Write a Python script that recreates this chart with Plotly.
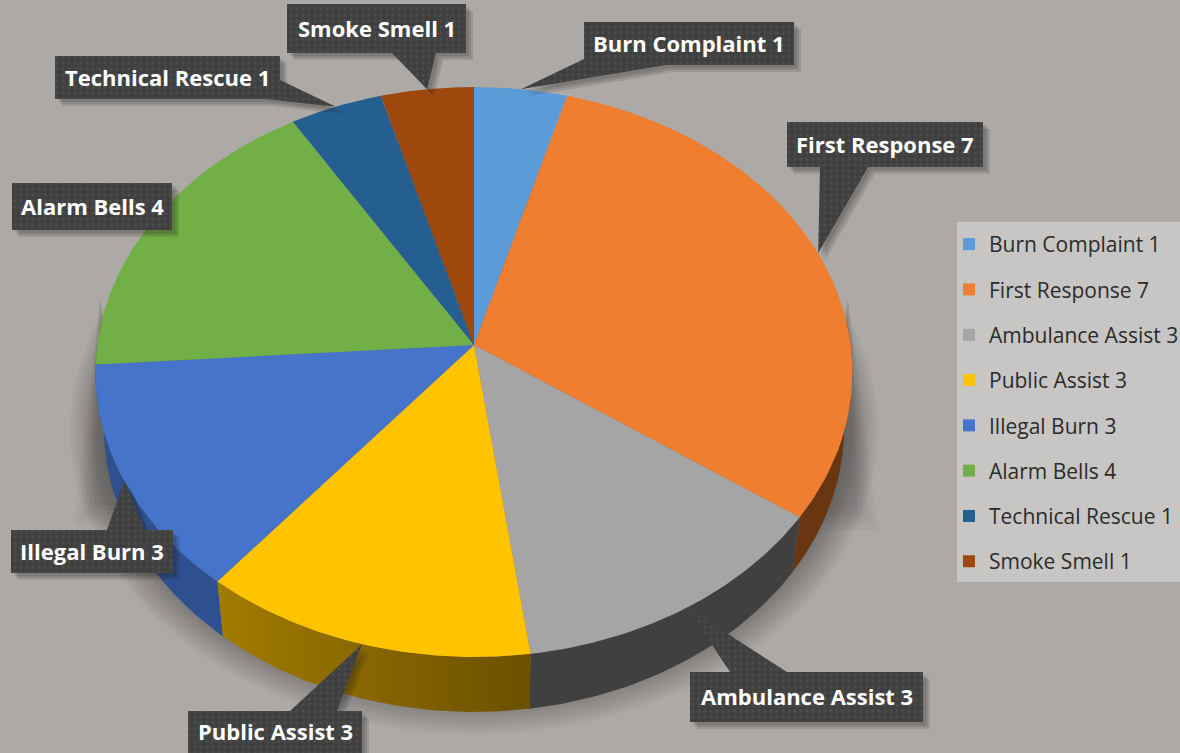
import numpy as np
import plotly.graph_objects as go

categories = ["Burn Complaint", "First Response", "Ambulance Assist", "Public Assist",
              "Illegal Burn", "Alarm Bells", "Technical Rescue", "Smoke Smell"]
values = [1, 7, 3, 3, 3, 4, 1, 1]
top_colors = ["#5B9BD8", "#F07E30", "#A5A5A5", "#FFC300", "#4674CB", "#72AF47", "#255E91", "#9E480E"]
wall_colors = ["#3d6a94", "#6a3612", "#404040", "#856400", "#2e5090", "#4a7530", "#1a4468", "#6a300a"]

# label boxes: x0, y0, x1, y1, then the two points where the pointer leaves the box
label_boxes = [
    (584, 22, 794, 65, (584, 65), (666, 65)),
    (787, 122, 983, 167, (820, 167), (868, 167)),
    (690, 672, 923, 722, (730, 672), (787, 672)),
    (188, 711, 362, 753, (290, 711), (337, 711)),
    (11, 530, 173, 573, (107, 530), (145, 530)),
    (12, 183, 172, 230, None, None),
    (55, 56, 280, 99, (280, 80), (265, 99)),
    (287, 4, 466, 53, (392, 53), (436, 53)),
]

BG = "#ADA9A7"
CX, CY = 474.0, 345.0
A, B, K = 282.4, 376.8, 0.0947   # perspective projection of the pie disc
DEPTH, SHRINK = 55.0, 0.978


def rim(theta_deg, bottom=False):
    t = np.radians(theta_deg)
    u, v = np.sin(t), np.cos(t)
    den = 1 + K * v
    x, y = B * u / den, A * v / den
    if bottom:
        return CX + x * SHRINK, CY - y + DEPTH
    return CX + x, CY - y


total = sum(values)
edges = np.concatenate([[0], np.cumsum(values)]) / total * 360.0
fig = go.Figure()

# soft shadow under the pie
t = np.radians(np.linspace(0, 360, 181))
for i in range(14):
    f = i / 13
    rx, ry = 404 - 34 * f, 304 - 36 * f
    fig.add_trace(go.Scatter(x=CX + rx * np.sin(t), y=430 - ry * np.cos(t), mode="lines",
                             fill="toself", line=dict(width=0), fillcolor="rgba(40,40,40,0.03)",
                             showlegend=False, hoverinfo="skip"))
for j in range(5):
    w = 26 - j * 5
    bot = 525 - j * 5
    for px, py in (([100, 100 - w, 135], [300, bot, bot]), ([848, 848 + w + 4, 815], [300, bot + 5, bot + 5])):
        fig.add_trace(go.Scatter(x=px, y=py, mode="lines", fill="toself", line=dict(width=0),
                                 fillcolor="rgba(40,40,40,0.035)", showlegend=False, hoverinfo="skip"))

# side walls (only the front of the drum shows)
order = sorted(range(len(values)), key=lambda i: abs(180 - (edges[i] + edges[i + 1]) / 2), reverse=True)
for i in order:
    a, b = max(edges[i], 85.0), min(edges[i + 1], 275.0)
    if a >= b:
        continue
    th = np.linspace(a, b, 60)
    xt, yt = rim(th)
    xb, yb = rim(th[::-1], bottom=True)
    kw = dict(fillcolor=wall_colors[i])
    if categories[i] == "Public Assist":
        kw = dict(fillgradient=dict(type="horizontal",
                                    colorscale=[[0, "#A27B00"], [1, "#6A5000"]]))
    fig.add_trace(go.Scatter(x=np.r_[xt, xb], y=np.r_[yt, yb], mode="lines", fill="toself",
                             line=dict(width=0), showlegend=False, hoverinfo="skip", **kw))

# top faces
for i, (name, val) in enumerate(zip(categories, values)):
    th = np.linspace(edges[i], edges[i + 1], 80)
    xt, yt = rim(th)
    fig.add_trace(go.Scatter(x=np.r_[CX, xt, CX], y=np.r_[CY, yt, CY], mode="lines", fill="toself",
                             line=dict(width=0), fillcolor=top_colors[i], name=f"{name} {val}",
                             showlegend=False, hoverinfo="text", text=f"{name} {val}"))

# callouts
annotations = []
for i, (name, val) in enumerate(zip(categories, values)):
    x0, y0, x1, y1, p, q = label_boxes[i]
    tip = rim((edges[i] + edges[i + 1]) / 2)
    if p is None:
        px, py = [x0, x1, x1, x0, x0], [y0, y0, y1, y1, y0]
    elif p[1] == y0:      # pointer up from the top edge
        px = [x0, p[0], tip[0], q[0], x1, x1, x0, x0]
        py = [y0, y0, tip[1], y0, y0, y1, y1, y0]
    elif p[1] == y1 and p[0] == x0:   # from the bottom-left corner
        px = [x0, x1, x1, q[0], tip[0], x0, x0]
        py = [y0, y0, y1, y1, tip[1], y1 - 6, y0]
    elif p[0] == x1:      # from the right edge
        px = [x0, x1, x1, tip[0], q[0], x0, x0]
        py = [y0, y0, p[1], tip[1], y1, y1, y0]
    else:                 # pointer down from the bottom edge
        px = [x0, x1, x1, q[0], tip[0], p[0], x0, x0]
        py = [y0, y0, y1, y1, tip[1], y1, y1, y0]
    for off in (3, 5, 7):
        fig.add_trace(go.Scatter(x=[a + off for a in px], y=[b + off for b in py], mode="lines",
                                 fill="toself", line=dict(width=0),
                                 fillcolor="rgba(30,30,30,0.13)", showlegend=False, hoverinfo="skip"))
    fig.add_trace(go.Scatter(x=px, y=py, mode="lines", fill="toself", line=dict(width=0),
                             fillcolor="#404040",
                             fillpattern=dict(shape=".", size=6, solidity=0.25,
                                              fgcolor="#565656", bgcolor="#404040"),
                             showlegend=False, hoverinfo="skip"))
    annotations.append(dict(x=(x0 + x1) / 2, y=(y0 + y1) / 2 - 1, text=f"<b>{name} {val}</b>",
                            showarrow=False, xref="x", yref="y",
                            font=dict(family="Open Sans", size=22, color="#FFFFFF")))

# legend entries
for i, (name, val) in enumerate(zip(categories, values)):
    fig.add_trace(go.Scatter(x=[None], y=[None], mode="markers", name=f"{name} {val}",
                             legendgroup=name,
                             marker=dict(symbol="square", size=12, color=top_colors[i])))

fig.update_layout(
    width=1180, height=753, autosize=False,
    margin=dict(l=0, r=0, t=0, b=0, autoexpand=False),
    paper_bgcolor=BG, plot_bgcolor=BG,
    xaxis=dict(range=[0, 1180], visible=False, fixedrange=True),
    yaxis=dict(range=[753, 0], visible=False, fixedrange=True),
    annotations=annotations,
    shapes=[dict(type="rect", xref="x", yref="y", x0=957, y0=222, x1=1180, y1=582,
                 fillcolor="#C8C6C5", line=dict(width=0), layer="below")],
    legend=dict(x=957 / 1180, y=1 - 224 / 753, xanchor="left", yanchor="top", indentation=-8,
                bgcolor="rgba(0,0,0,0)", tracegroupgap=15, itemclick=False, itemdoubleclick=False,
                font=dict(family="Open Sans", size=21, color="#2b2b2b")),
)
fig.write_html("out.html", config={"displayModeBar": False},
               post_script="document.body.style.margin='0';document.body.style.overflow='hidden';")
